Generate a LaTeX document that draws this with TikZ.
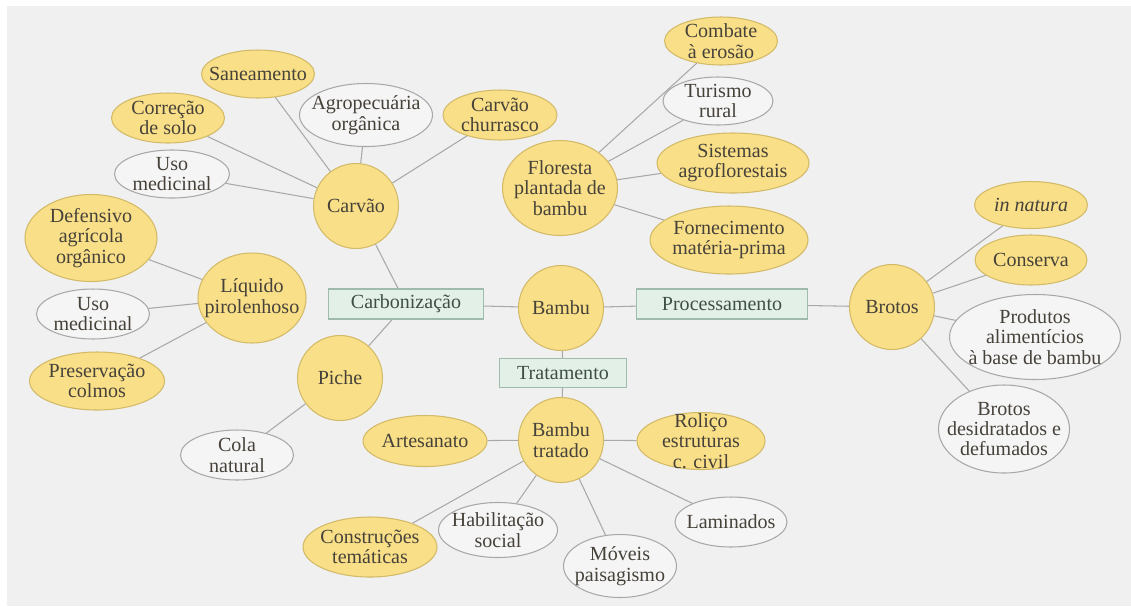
\documentclass[tikz,border=0pt]{standalone}
\usepackage{fontspec}
\setmainfont{Liberation Serif}
\usepackage{tikz}
\usetikzlibrary{shapes.geometric,backgrounds}
\definecolor{panel}{HTML}{F0F0F0}
\definecolor{yelfill}{HTML}{F9DF87}
\definecolor{yelline}{HTML}{D2BA68}
\definecolor{gryfill}{HTML}{F5F5F5}
\definecolor{gryline}{HTML}{A8A8A8}
\definecolor{stagefill}{HTML}{E3F0E7}
\definecolor{stageline}{HTML}{A0BBAC}
\definecolor{linkgray}{HTML}{A9A9A9}
\definecolor{ink}{HTML}{46423A}
\definecolor{stageink}{HTML}{3E4F47}

\begin{document}
\begin{tikzpicture}[
  x=0.02cm, y=-0.02cm,
  font=\fontsize{11.4}{11.6}\selectfont,
  sz/.style 2 args={minimum width=#1*0.02cm, minimum height=#2*0.02cm},
  yel/.style={ellipse, draw=yelline, fill=yelfill, line width=0.6pt,
    inner sep=-12pt, align=center, text=ink},
  gry/.style={ellipse, draw=gryline, fill=gryfill, line width=0.6pt,
    inner sep=-12pt, align=center, text=ink},
  hub/.style={yel, sz={85}{85}},
  stage/.style={rectangle, draw=stageline, fill=stagefill, line width=0.6pt,
    inner sep=0pt, align=center, text=stageink},
  link/.style={draw=linkgray, line width=0.6pt}
]
\useasboundingbox (0,0) rectangle (1131,606);

% ==================== CENTRE ====================
\node[hub] (bambu) at (561,308) {Bambu};
\node[stage, sz={155}{30}] (carbon) at (406,304) {Carbonização};
\node[stage, sz={171}{30}] (proc) at (722,304) {Processamento};
\node[stage, sz={127}{29}] (trat) at (563,373) {Tratamento};

% ==================== CARVAO ====================
\node[hub] (carvao) at (356,206) {Carvão};
\node[yel, sz={113}{48}] (sanea) at (258,74) {Saneamento};
\node[yel, sz={113}{50}] (correcao) at (168,118) {Correção\\de solo};
\node[gry, sz={133}{63}] (agro) at (366,115) {Agropecuária\\orgânica};
\node[gry, sz={115}{48}] (usomed1) at (172,174) {Uso\\medicinal};
\node[yel, sz={114}{50}] (churras) at (500,115) {Carvão\\churrasco};

% ==================== LIQUIDO / PICHE ====================
\node[yel, sz={108}{90}] (liquido) at (252,298) {Líquido\\pirolenhoso};
\node[yel, sz={132}{87}] (defens) at (91,238) {Defensivo\\agrícola\\orgânico};
\node[gry, sz={113}{50}] (usomed2) at (93,314) {Uso\\medicinal};
\node[yel, sz={135}{58}] (preserv) at (97,381) {Preservação\\colmos};
\node[hub] (piche) at (340,378) {Piche};
\node[gry, sz={113}{50}] (cola) at (237,455) {Cola\\natural};

% ==================== FLORESTA ====================
\node[yel, sz={115}{95}] (floresta) at (560,188) {Floresta\\plantada de\\bambu};
\node[yel, sz={113}{48}] (combate) at (721,41) {Combate\\à erosão};
\node[gry, sz={110}{48}] (turismo) at (718,101) {Turismo\\rural};
\node[yel, sz={152}{60}] (sistemas) at (733,163) {Sistemas\\agroflorestais};
\node[yel, sz={158}{68}] (fornec) at (729,240) {Fornecimento\\matéria-prima};

% ==================== BROTOS ====================
\node[hub] (brotos) at (892,307) {Brotos};
\node[yel, sz={113}{47}] (natura) at (1031,205) {\itshape in natura};
\node[yel, sz={112}{50}] (conserva) at (1031,260) {Conserva};
\node[gry, sz={171}{85}] (produtos) at (1035,337) {Produtos\\alimentícios\\à base de bambu};
\node[gry, sz={131}{88}] (desidr) at (1004,429) {Brotos\\desidratados e\\defumados};

% ==================== BAMBU TRATADO ====================
\node[hub] (tratado) at (561,440) {Bambu\\tratado};
\node[yel, sz={124}{51}] (artes) at (425,441) {Artesanato};
\node[yel, sz={128}{57}] (rolico) at (701,441) {Roliço\\estruturas\\c. civil};
\node[yel, sz={134}{60}] (constr) at (370,547) {Construções\\temáticas};
\node[gry, sz={119}{55}] (habil) at (498,530) {Habilitação\\social};
\node[gry, sz={113}{63}] (moveis) at (620,566) {Móveis\\paisagismo};
\node[gry, sz={112}{50}] (lamin) at (731,522) {Laminados};

\begin{scope}[on background layer]
  \fill[panel] (7,6) rectangle (1131,606);
  % stages
  \draw[link] (carbon) -- (bambu);
  \draw[link] (bambu) -- (proc);
  \draw[link] (proc) -- (brotos);
  \draw[link] (bambu) -- (trat);
  \draw[link] (trat) -- (tratado);
  \draw[link] (carbon) -- (carvao);
  \draw[link] (carbon) -- (piche);
  % carvao
  \draw[link] (carvao) -- (sanea);
  \draw[link] (carvao) -- (correcao);
  \draw[link] (carvao) -- (agro);
  \draw[link] (carvao) -- (usomed1);
  \draw[link] (carvao) -- (churras);
  % liquido, piche
  \draw[link] (liquido) -- (defens);
  \draw[link] (liquido) -- (usomed2);
  \draw[link] (liquido) -- (preserv);
  \draw[link] (piche) -- (cola);
  % floresta
  \draw[link] (floresta) -- (combate);
  \draw[link] (floresta) -- (turismo);
  \draw[link] (floresta) -- (sistemas);
  \draw[link] (floresta) -- (fornec);
  % brotos
  \draw[link] (brotos) -- (natura);
  \draw[link] (brotos) -- (conserva);
  \draw[link] (brotos) -- (produtos);
  \draw[link] (brotos) -- (desidr);
  % bambu tratado
  \draw[link] (tratado) -- (artes);
  \draw[link] (tratado) -- (rolico);
  \draw[link] (tratado) -- (constr);
  \draw[link] (tratado) -- (habil);
  \draw[link] (tratado) -- (moveis);
  \draw[link] (tratado) -- (lamin);
\end{scope}

\end{tikzpicture}
\end{document}
